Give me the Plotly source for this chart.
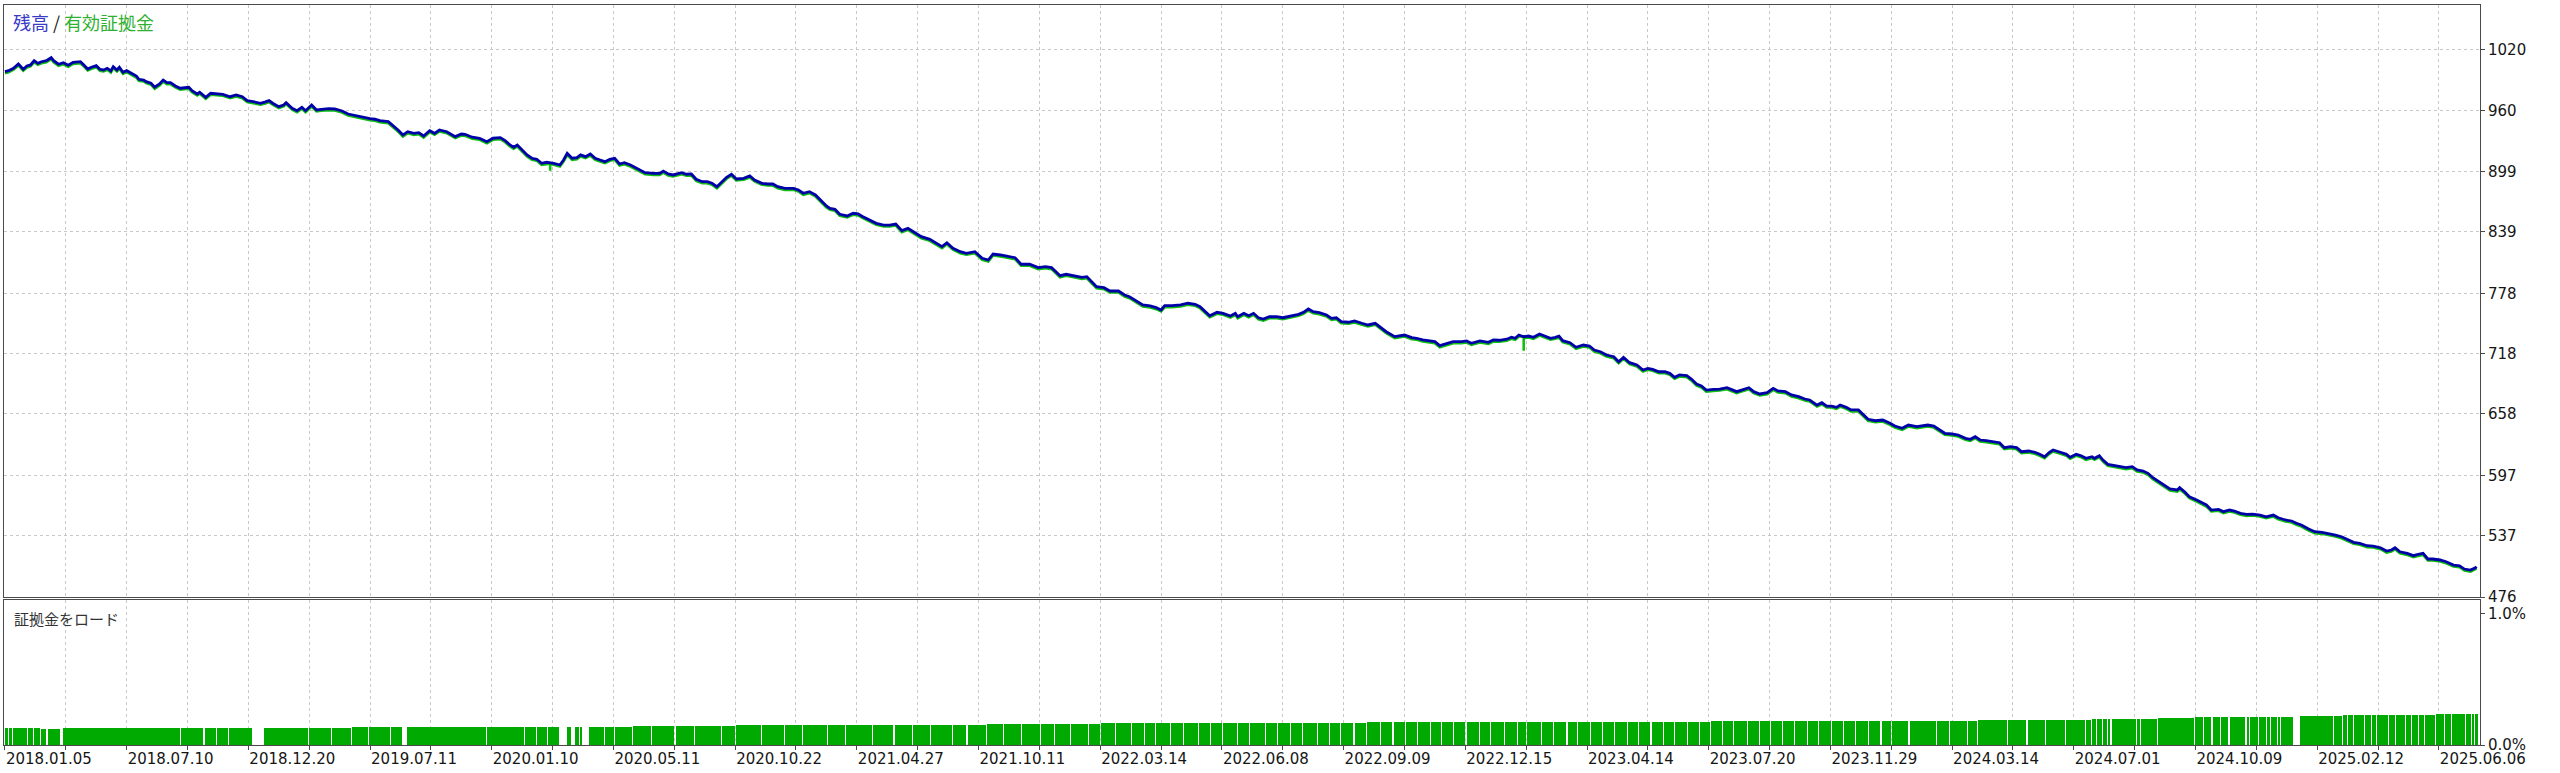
import plotly.graph_objects as go

# ---------------- data ----------------
# deal number (x) and balance value (y)
deal = [
    0, 3, 7, 11, 15, 18, 21, 24, 27, 30,
    34, 38, 40, 44, 48, 52, 56, 62, 64, 68,
    71, 75, 78, 81, 84, 87, 89, 92, 94, 97,
    100, 104, 108, 110, 114, 116, 120, 123, 127, 130,
    133, 136, 140, 144, 148, 151, 154, 158, 160, 165,
    169, 174, 179, 185, 190, 195, 199, 204, 210, 214,
    217, 220, 225, 229, 231, 236, 240, 244, 247, 252,
    256, 260, 266, 271, 277, 282, 289, 294, 300, 304,
    308, 315, 319, 323, 327, 331, 336, 340, 344, 349,
    353, 357, 363, 370, 375, 378, 384, 390, 396, 401,
    407, 411, 415, 418, 421, 425, 429, 433, 437, 441,
    445, 451, 456, 459, 462, 466, 470, 473, 477, 481,
    485, 489, 493, 497, 501, 505, 509, 514, 518, 522,
    526, 533, 538, 541, 545, 549, 556, 560, 564, 568,
    573, 577, 581, 585, 589, 593, 597, 601, 607, 612,
    616, 622, 627, 631, 635, 641, 648, 652, 656, 661,
    666, 670, 675, 678, 682, 686, 692, 697, 701, 705,
    711, 716, 722, 727, 732, 737, 742, 748, 753, 760,
    766, 770, 774, 779, 785, 790, 797, 803, 808, 812,
    818, 822, 830, 835, 842, 849, 855, 860, 863, 867,
    872, 879, 885, 889, 893, 897, 903, 908, 915, 920,
    924, 930, 935, 941, 946, 950, 953, 959, 966, 972,
    978, 982, 986, 990, 996, 1001, 1007, 1011, 1013, 1018,
    1022, 1026, 1030, 1034, 1039, 1045, 1050, 1056, 1063, 1067,
    1071, 1075, 1080, 1086, 1090, 1094, 1098, 1104, 1109, 1115,
    1120, 1126, 1130, 1135, 1142, 1146, 1150, 1156, 1160, 1165,
    1171, 1175, 1179, 1185, 1190, 1197, 1201, 1205, 1212, 1219,
    1223, 1228, 1234, 1238, 1241, 1244, 1248, 1252, 1256, 1261,
    1265, 1270, 1274, 1277, 1280, 1286, 1291, 1297, 1302, 1306,
    1311, 1316, 1322, 1326, 1330, 1335, 1341, 1346, 1350, 1354,
    1359, 1364, 1368, 1372, 1376, 1382, 1386, 1390, 1394, 1398,
    1404, 1409, 1415, 1419, 1423, 1427, 1433, 1437, 1442, 1448,
    1453, 1457, 1463, 1468, 1474, 1479, 1483, 1489, 1493, 1497,
    1501, 1505, 1508, 1513, 1517, 1523, 1527, 1531, 1537, 1543,
    1549, 1553, 1559, 1564, 1571, 1576, 1580, 1585, 1590, 1594,
    1600, 1605, 1611, 1615, 1619, 1623, 1628, 1634, 1639, 1643,
    1648, 1653, 1657, 1663, 1668, 1672, 1676, 1680, 1683, 1689,
    1694, 1697, 1702, 1706, 1710, 1715, 1717, 1721, 1724, 1728,
    1734, 1738, 1743, 1748, 1752, 1757, 1761, 1765, 1770, 1775,
    1779, 1785, 1787, 1791, 1795, 1801, 1805, 1809, 1813, 1819,
    1823, 1828, 1832, 1837, 1842, 1847, 1853, 1858, 1864, 1868,
    1874, 1879, 1883, 1887, 1893, 1898, 1904, 1909, 1915, 1920,
    1924, 1930, 1935, 1941, 1946, 1952, 1957, 1961, 1964, 1968,
    1974, 1979, 1983, 1987, 1991, 1995, 2001, 2006, 2012, 2017,
    2021, 2026, 2030, 2031,
]
balance = [
    998.4, 999.4, 1001.8, 1006.1, 1000.8, 1004.1, 1005.1, 1009.3, 1006.7, 1008.3,
    1009.3, 1012.3, 1009.3, 1005.8, 1007.3, 1004.8, 1007.7, 1008.3, 1006.1, 1001.1,
    1002.8, 1004.4, 1000.8, 1000.1, 1001.8, 999.1, 1003.4, 1000.1, 1002.8, 997.8,
    999.4, 996.8, 994.1, 990.8, 990.1, 988.5, 986.9, 982.9, 986.2, 990.1,
    987.5, 987.5, 984.2, 981.9, 982.5, 982.9, 979.2, 976.2, 977.9, 972.9,
    976.9, 976.2, 975.9, 973.5, 975.2, 973.5, 969.6, 968.6, 967.0, 968.3,
    969.6, 967.0, 963.6, 965.3, 967.6, 962.0, 959.6, 963.0, 959.6, 965.3,
    960.3, 961.0, 961.6, 961.3, 959.3, 956.3, 954.3, 953.0, 951.7, 951.1,
    949.7, 948.7, 944.7, 940.4, 935.4, 938.7, 937.1, 937.7, 934.4, 939.7,
    937.1, 940.4, 938.7, 933.8, 936.4, 936.1, 933.2, 932.2, 928.8, 932.2,
    932.8, 929.8, 925.5, 923.2, 925.5, 920.5, 915.6, 912.3, 911.3, 907.3,
    908.3, 907.3, 905.6, 910.6, 917.2, 912.3, 912.9, 915.6, 913.9, 916.5,
    912.3, 910.6, 908.9, 911.3, 912.3, 906.6, 907.9, 905.6, 903.3, 900.6,
    898.0, 897.3, 897.3, 899.6, 896.7, 895.7, 897.9, 896.4, 896.7, 891.4,
    889.0, 889.0, 887.4, 884.0, 889.0, 893.4, 896.4, 891.7, 892.4, 894.7,
    890.7, 887.4, 886.7, 886.7, 884.0, 882.4, 882.4, 880.7, 877.5, 879.1,
    875.8, 870.8, 864.8, 862.5, 861.5, 856.6, 854.9, 857.6, 856.9, 854.2,
    850.9, 847.6, 845.9, 845.9, 846.9, 840.3, 842.6, 838.3, 834.3, 831.7,
    827.0, 824.4, 828.3, 822.8, 819.4, 817.8, 819.4, 812.8, 811.1, 817.1,
    816.1, 815.4, 813.4, 806.9, 806.9, 803.5, 804.5, 803.5, 800.2, 795.5,
    796.9, 795.5, 793.9, 794.5, 789.5, 784.6, 783.6, 780.3, 780.3, 776.3,
    774.6, 769.7, 766.4, 765.4, 763.7, 761.4, 765.7, 765.7, 766.4, 768.1,
    767.1, 764.7, 760.4, 755.7, 759.1, 758.1, 755.4, 758.1, 754.7, 758.1,
    755.7, 758.1, 753.7, 752.4, 754.7, 754.7, 753.7, 755.4, 757.1, 759.1,
    762.4, 759.7, 758.7, 756.4, 753.1, 753.7, 749.8, 749.2, 750.5, 748.2,
    746.5, 748.2, 744.8, 739.8, 734.9, 735.8, 736.5, 733.9, 733.3, 731.6,
    730.6, 729.9, 725.9, 728.3, 729.9, 729.9, 730.6, 728.3, 730.6, 729.3,
    731.6, 731.3, 732.3, 734.3, 733.3, 736.5, 734.8, 735.5, 734.2, 737.5,
    735.8, 733.3, 734.2, 735.5, 730.9, 728.9, 724.3, 726.6, 725.6, 721.6,
    719.9, 716.6, 714.9, 710.0, 714.4, 709.0, 706.7, 701.7, 703.4, 702.4,
    700.0, 700.0, 698.4, 694.5, 696.8, 696.1, 692.5, 687.8, 685.8, 681.8,
    682.5, 682.8, 684.1, 682.5, 680.2, 681.8, 684.1, 680.2, 677.9, 679.2,
    683.5, 680.9, 680.2, 676.9, 675.2, 672.9, 671.9, 666.9, 669.2, 665.9,
    665.9, 664.6, 666.9, 664.6, 662.0, 662.0, 657.0, 652.7, 651.3, 652.0,
    648.7, 646.0, 643.8, 647.0, 645.4, 646.0, 647.0, 646.0, 642.1, 638.8,
    638.1, 637.1, 633.8, 632.8, 635.4, 632.1, 631.4, 630.4, 629.4, 624.5,
    625.5, 624.5, 620.5, 621.2, 619.9, 617.9, 615.5, 619.9, 622.2, 619.9,
    617.9, 614.9, 617.9, 616.5, 613.9, 615.5, 613.9, 616.5, 612.2, 607.9,
    606.5, 605.6, 604.6, 605.6, 602.3, 601.3, 599.0, 594.6, 590.6, 587.4,
    583.4, 582.4, 584.7, 580.7, 575.7, 572.4, 570.2, 567.5, 562.5, 563.2,
    560.8, 562.5, 561.5, 559.2, 558.2, 558.5, 557.5, 555.8, 557.5, 554.8,
    552.6, 551.6, 549.3, 547.6, 543.6, 540.9, 540.3, 539.3, 537.6, 535.9,
    533.6, 530.4, 529.4, 527.0, 526.7, 525.0, 521.7, 522.7, 525.0, 521.0,
    519.4, 517.1, 518.4, 519.4, 513.8, 513.8, 512.8, 511.1, 507.8, 507.1,
    503.8, 502.8, 505.1, 506.1,
]

# equity dips that show below the balance line
spike_deal = [448, 1248]
spike_low = [901.3, 722.3]

# margin-load histogram: segment start (deal) and load in percent
load_start = [
    0, 3, 7, 19, 24, 30, 35, 46, 48, 145,
    164, 174, 184, 204, 213, 250, 269, 285, 299, 317,
    327, 330, 396, 427, 437, 446, 456, 462, 466, 468,
    473, 475, 480, 493, 501, 516, 532, 551, 567, 589,
    601, 622, 641, 656, 676, 691, 713, 731, 746, 761,
    779, 791, 807, 821, 836, 851, 863, 876, 891, 901,
    913, 926, 937, 946, 958, 969, 981, 991, 1001, 1013,
    1023, 1036, 1046, 1057, 1067, 1079, 1089, 1098, 1109, 1119,
    1131, 1141, 1151, 1161, 1172, 1181, 1191, 1201, 1212, 1221,
    1233, 1243, 1251, 1263, 1273, 1284, 1293, 1303, 1313, 1323,
    1334, 1343, 1353, 1363, 1372, 1383, 1393, 1402, 1412, 1421,
    1432, 1442, 1451, 1461, 1471, 1482, 1491, 1501, 1511, 1521,
    1532, 1542, 1551, 1565, 1588, 1598, 1613, 1621, 1646, 1662,
    1677, 1694, 1710, 1715, 1719, 1724, 1728, 1731, 1752, 1755,
    1769, 1800, 1807, 1814, 1821, 1828, 1842, 1845, 1852, 1859,
    1862, 1868, 1870, 1881, 1886, 1914, 1921, 1925, 1930, 1939,
    1945, 1949, 1959, 1965, 1973, 1978, 1984, 1989, 1998, 2005,
    2011, 2022, 2027, 2030,
]
load_pct = [
    0.13, 0.13, 0.13, 0.13, 0.13, 0.125, 0.125, 0, 0.13, 0.13,
    0.13, 0.13, 0.13, 0, 0.13, 0.13, 0.13, 0.135, 0.14, 0.14,
    0, 0.14, 0.14, 0.14, 0.14, 0.14, 0, 0.14, 0, 0.14,
    0.14, 0, 0.14, 0.14, 0.14, 0.145, 0.145, 0.145, 0.145, 0.145,
    0.15, 0.15, 0.15, 0.15, 0.15, 0.15, 0.155, 0.155, 0.155, 0.155,
    0.155, 0.155, 0.16, 0.16, 0.16, 0.16, 0.16, 0.16, 0.16, 0.165,
    0.165, 0.165, 0.165, 0.165, 0.165, 0.165, 0.165, 0.165, 0.17, 0.17,
    0.17, 0.17, 0.17, 0.17, 0.17, 0.17, 0.17, 0.17, 0.17, 0.172,
    0.172, 0.172, 0.172, 0.172, 0.172, 0.172, 0.175, 0.175, 0.175, 0.175,
    0.175, 0.175, 0.175, 0.175, 0.175, 0.175, 0.175, 0.177, 0.177, 0.177,
    0.177, 0.177, 0.177, 0.177, 0.177, 0.177, 0.177, 0.18, 0.18, 0.18,
    0.18, 0.18, 0.18, 0.18, 0.18, 0.18, 0.18, 0.182, 0.182, 0.182,
    0.182, 0.182, 0.182, 0.184, 0.184, 0.184, 0.184, 0.191, 0.191, 0.191,
    0.191, 0.191, 0.191, 0.2, 0.2, 0.2, 0.2, 0.2, 0.2, 0.2,
    0.208, 0.216, 0.216, 0.216, 0.216, 0.216, 0.216, 0.216, 0.216, 0.216,
    0.216, 0.216, 0.216, 0, 0.223, 0.223, 0.228, 0.228, 0.228, 0.228,
    0.228, 0.228, 0.228, 0.228, 0.228, 0.228, 0.228, 0.228, 0.235, 0.235,
    0.235, 0.235, 0.24, 0.24,
]
load_end = 2032

date_labels = [
    "2018.01.05", "2018.07.10", "2018.12.20", "2019.07.11", "2020.01.10",
    "2020.05.11", "2020.10.22", "2021.04.27", "2021.10.11", "2022.03.14",
    "2022.06.08", "2022.09.09", "2022.12.15", "2023.04.14", "2023.07.20",
    "2023.11.29", "2024.03.14", "2024.07.01", "2024.10.09", "2025.02.12",
    "2025.06.06",
]
grid_deals = list(range(0, 2001, 50))
balance_ticks = [476, 537, 597, 658, 718, 778, 839, 899, 960, 1020]
load_ticks = [0, 1]
load_tick_text = ["0.0%", "1.0%"]

# ---------------- styles ----------------
BLUE = "#0000a8"
GREEN = "#10c010"
BAR_GREEN = "#00aa00"
GRID = "#c8c8c8"
FRAME = "#4a4a4a"
TXT = "#151515"
X_RANGE = [-0.8, 2033.8]
Y_RANGE = [476, 1064.7]
TOP_DOMAIN = [0.2, 1]
EQ_SHIFT = 1.5   # equity drawn a hair below the balance line
BAR_GAP = 0.9
TICK_FONT = dict(family="DejaVu Sans", size=15, color=TXT)

assert len(deal) == len(balance)
assert len(load_start) == len(load_pct)

# equity line = balance line with its dips
eq_x, eq_y = [], []
si = 0
for d, v in zip(deal, balance):
    while si < len(spike_deal) and spike_deal[si] <= d:
        base = eq_y[-1] if eq_y else v
        eq_x += [spike_deal[si]] * 3
        eq_y += [base, spike_low[si], base]
        si += 1
    eq_x.append(d)
    eq_y.append(v)

# histogram segments
bar_x, bar_w, bar_y = [], [], []
ends = load_start[1:] + [load_end]
for i, (s, e, p) in enumerate(zip(load_start, ends, load_pct)):
    if p <= 0:
        continue
    w = (e - s) - (BAR_GAP if i < len(load_start) - 1 else 0)
    bar_x.append(s + w / 2)
    bar_w.append(w)
    bar_y.append(p)

x_text = [date_labels[i // 2] if i % 2 == 0 else "" for i in range(len(grid_deals))]

fig = go.Figure()
# invisible anchor trace so the base (tick/grid) subplot is drawn
fig.add_trace(go.Scatter(x=[deal[0]], y=[balance[0]], mode="markers", xaxis="x", yaxis="y",
                         marker=dict(opacity=0, size=1), hoverinfo="skip"))
fig.add_trace(go.Scatter(x=eq_x, y=eq_y, mode="lines", xaxis="x", yaxis="y3",
                         line=dict(color=GREEN, width=2.6), hoverinfo="skip"))
fig.add_trace(go.Scatter(x=deal, y=balance, mode="lines", xaxis="x", yaxis="y4",
                         line=dict(color=BLUE, width=2.8), hoverinfo="skip"))
fig.add_trace(go.Bar(x=bar_x, y=bar_y, width=bar_w, xaxis="x2", yaxis="y2",
                     marker=dict(color=BAR_GREEN, line=dict(width=0)), hoverinfo="skip"))

common_x = dict(range=X_RANGE, tickmode="array", tickvals=grid_deals, showgrid=True,
                gridcolor=GRID, gridwidth=1, griddash="3px,3px", zeroline=False,
                showline=True, mirror=True, linecolor=FRAME, linewidth=1, automargin=False)

fig.update_layout(
    width=2560, height=773,
    margin=dict(l=4, r=80, t=5, b=28),
    paper_bgcolor="white", plot_bgcolor="white",
    showlegend=False, bargap=0,
    xaxis=dict(domain=[0, 1], anchor="y", showticklabels=False, ticks="", **common_x),
    yaxis=dict(domain=TOP_DOMAIN, anchor="x", side="right", range=Y_RANGE,
               tickmode="array", tickvals=balance_ticks,
               ticktext=[str(v) for v in balance_ticks],
               ticks="outside", ticklen=4, tickcolor=FRAME, tickfont=TICK_FONT,
               showgrid=True, gridcolor=GRID, gridwidth=1, griddash="3px,3px",
               zeroline=False, showline=True, mirror=True, linecolor=FRAME, linewidth=1,
               automargin=False),
    yaxis3=dict(overlaying="y", anchor="x", domain=TOP_DOMAIN,
                range=[Y_RANGE[0] + EQ_SHIFT, Y_RANGE[1] + EQ_SHIFT],
                visible=False, showgrid=False, zeroline=False),
    yaxis4=dict(overlaying="y", anchor="x", domain=TOP_DOMAIN, range=Y_RANGE,
                visible=False, showgrid=False, zeroline=False),
    xaxis2=dict(domain=[0, 1], anchor="y2", ticktext=x_text, ticks="outside", ticklen=4,
                tickcolor=FRAME, tickfont=TICK_FONT, ticklabelposition="outside right",
                **common_x),
    yaxis2=dict(domain=[0, 0.196], anchor="x2", side="right", range=[0, 1.106],
                tickmode="array", tickvals=load_ticks, ticktext=load_tick_text,
                ticks="outside", ticklen=4, tickcolor=FRAME, tickfont=TICK_FONT,
                showgrid=False, zeroline=False, showline=True, mirror=True,
                linecolor=FRAME, linewidth=1, automargin=False),
    annotations=[
        dict(xref="paper", yref="paper", x=0.0028, y=0.977, xanchor="left", yanchor="middle",
             showarrow=False,
             text='<span style="color:#3a3ac8">残高</span>&nbsp;/&nbsp;'
                  '<span style="color:#30b030">有効証拠金</span>',
             font=dict(family="Noto Sans CJK JP", size=18, color="#222222")),
        dict(xref="paper", yref="paper", x=0.0032, y=0.171, xanchor="left", yanchor="middle",
             showarrow=False, text="証拠金をロード",
             font=dict(family="Noto Sans CJK JP", size=15, color="#333333")),
    ],
)

# remove the browser's default 8px page margin so the figure sits at the window origin
fig.write_html("out.html", config={"displayModeBar": False},
               post_script="document.body.style.margin='0px';")
